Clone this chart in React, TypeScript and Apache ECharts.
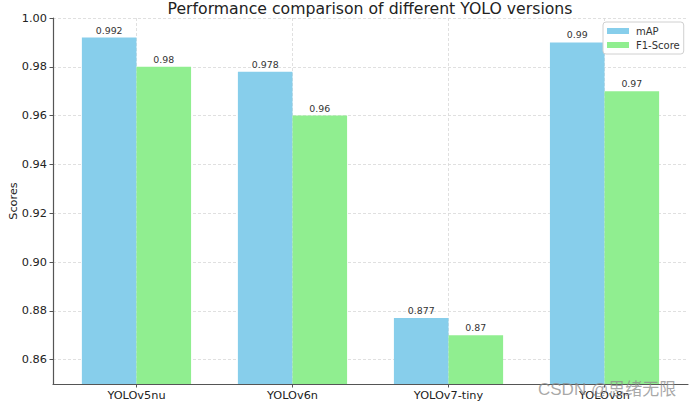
import React, { useEffect, useRef } from "react";
import * as echarts from "echarts";

const categories = ["YOLOv5nu", "YOLOv6n", "YOLOv7-tiny", "YOLOv8n"];
const mapValues = [0.992, 0.978, 0.877, 0.99];
const f1Values = [0.98, 0.96, 0.87, 0.97];
const yTicks = [0.86, 0.88, 0.9, 0.92, 0.94, 0.96, 0.98, 1.0];
const xTicks = [0, 1, 2, 3];

const FONT = "DejaVu Sans, sans-serif";

export default function App() {
  const ref = useRef<HTMLDivElement>(null);
  useEffect(() => {
    if (!ref.current) return;
    const chart = echarts.init(ref.current, undefined, { renderer: "svg" });
    const gridLine = { show: true, lineStyle: { color: "#d8d8d8", width: 0.8, type: [3, 2] } };
    const label = {
      show: true,
      position: "top",
      distance: 3,
      fontSize: 9.4,
      fontFamily: FONT,
      color: "#333",
      formatter: (p: any) => String(p.value[1]),
    };
    chart.setOption({
      animation: false,
      textStyle: { fontFamily: FONT },
      title: {
        text: "Performance comparison of different YOLO versions",
        left: 370,
        textAlign: "center",
        top: 0,
        padding: 0,
        textStyle: { fontSize: 15.7, fontWeight: "normal", color: "#222", fontFamily: FONT },
      },
      grid: { left: 53, right: 3, top: 18, bottom: 24, outerBoundsMode: "none", containLabel: false },
      legend: {
        orient: "vertical",
        left: 603,
        top: 22,
        padding: [4, 4, 4, 4],
        itemWidth: 22,
        itemHeight: 6,
        itemGap: 4,
        icon: "rect",
        borderColor: "#d0d0d0",
        borderWidth: 1,
        borderRadius: 3,
        backgroundColor: "#fff",
        textStyle: { fontSize: 10, fontFamily: FONT, color: "#333", padding: [0, 0, 0, 2] },
        data: ["mAP", "F1-Score"],
      },
      xAxis: {
        type: "value",
        min: -0.535,
        max: 3.535,
        axisLine: { show: true, onZero: false, lineStyle: { color: "#555", width: 1.2 } },
        axisTick: { show: true, customValues: xTicks, length: 3.5, lineStyle: { color: "#555" } },
        axisLabel: {
          customValues: xTicks,
          margin: 6,
          fontSize: 11.3,
          fontFamily: FONT,
          color: "#222",
          formatter: (v: number) => categories[Math.round(v)] ?? "",
        },
        splitLine: gridLine,
      },
      yAxis: {
        type: "value",
        min: 0.85,
        max: 1.0,
        name: "Scores",
        nameLocation: "middle",
        nameGap: 34,
        nameMoveOverlap: false,
        nameTextStyle: { fontSize: 11.3, fontFamily: FONT, color: "#222" },
        axisLine: { show: true, onZero: false, lineStyle: { color: "#555", width: 1.2 } },
        axisTick: { show: true, customValues: yTicks, length: 3.5, lineStyle: { color: "#555" } },
        axisLabel: {
          customValues: yTicks,
          margin: 6,
          fontSize: 11.3,
          fontFamily: FONT,
          color: "#222",
          formatter: (v: number) => v.toFixed(2),
        },
        splitLine: gridLine,
      },
      series: [
        {
          name: "mAP",
          type: "bar",
          barWidth: 54.6,
          barGap: "0%",
          itemStyle: { color: "#87CEEB" },
          label,
          data: mapValues.map((v, i) => [i, v]),
        },
        {
          name: "F1-Score",
          type: "bar",
          barWidth: 54.6,
          barGap: "0%",
          itemStyle: { color: "#90EE90" },
          label,
          data: f1Values.map((v, i) => [i, v]),
        },
      ],
      graphic: [
        {
          type: "text",
          left: 538,
          top: 381,
          z: 100,
          style: {
            text: "CSDN @思绪无限",
            fontSize: 17,
            fontFamily: "Liberation Sans, Noto Sans CJK SC, sans-serif",
            fill: "rgba(140,140,140,0.75)",
          },
        },
      ],
    });
    return () => chart.dispose();
  }, []);
  return <div ref={ref} style={{ width: 691, height: 408, position: "absolute", left: 0, top: 0 }} />;
}
